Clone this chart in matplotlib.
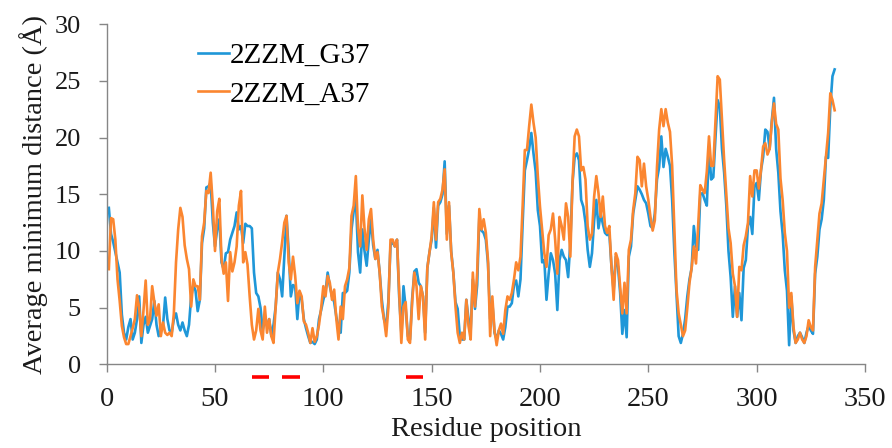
import matplotlib
matplotlib.use("Agg")
import matplotlib.pyplot as plt
import numpy as np

plt.rcParams['font.family'] = ['Liberation Serif', 'DejaVu Serif']

residues = list(range(1, 337))

g37 = [
    13.8, 11.5, 10.8, 9.9, 9.0, 8.1, 4.4, 2.8, 2.2, 3.3,
    4.0, 2.2, 2.8, 4.0, 6.0, 1.9, 3.5, 4.2, 2.8, 3.4,
    4.0, 5.6, 3.5, 2.5, 3.0, 3.4, 5.9, 4.0, 3.0, 2.8,
    4.0, 4.5, 3.5, 3.0, 3.7, 3.0, 2.5, 3.5, 6.0, 7.0,
    6.5, 4.7, 5.7, 10.7, 12.0, 15.6, 15.7, 16.0, 12.5, 10.4,
    11.9, 12.8, 9.0, 8.4, 9.8, 9.9, 11.0, 11.6, 12.2, 13.4,
    11.9, 12.2, 10.7, 12.4, 12.2, 12.2, 12.0, 8.1, 6.3, 6.0,
    5.0, 3.0, 4.0, 3.4, 4.0, 2.5, 3.5, 5.1, 8.1, 7.5,
    6.0, 9.5, 13.1, 10.0, 6.0, 7.0, 6.9, 4.0, 6.4, 5.7,
    4.0, 3.2, 2.5, 1.9, 2.0, 1.8, 2.2, 4.0, 4.8, 5.7,
    6.4, 8.1, 6.9, 6.0, 5.5, 4.2, 3.3, 2.8, 6.3, 6.3,
    6.5, 8.1, 11.9, 13.5, 14.6, 9.9, 8.1, 11.9, 10.0, 8.7,
    11.0, 12.8, 10.5, 9.3, 10.1, 8.1, 5.7, 4.0, 3.4, 5.5,
    10.5, 10.8, 10.4, 11.0, 6.0, 2.8, 6.9, 5.0, 2.5, 2.2,
    5.8, 8.2, 8.4, 7.2, 6.9, 6.0, 2.8, 8.5, 9.9, 11.0,
    13.8, 10.3, 14.0, 14.3, 15.0, 17.9, 11.5, 14.0, 10.0, 8.1,
    5.5, 4.9, 2.5, 2.2, 2.2, 5.7, 4.0, 3.0, 7.5, 4.9,
    7.0, 13.0, 11.8, 11.6, 11.0, 8.9, 4.0, 5.5, 2.8, 2.2,
    3.0, 2.7, 2.2, 3.3, 5.1, 5.1, 5.4, 7.0, 7.4, 6.0,
    7.5, 12.5, 17.1, 18.0, 19.0, 20.4, 18.6, 17.0, 13.6, 12.2,
    9.0, 9.2, 5.7, 8.0, 9.8, 9.2, 8.0, 4.8, 9.2, 10.1,
    9.5, 9.2, 7.7, 10.7, 16.0, 18.3, 18.6, 18.0, 14.5, 13.9,
    12.5, 10.1, 8.6, 9.8, 12.7, 14.5, 12.0, 13.3, 12.4, 11.6,
    11.4, 11.6, 8.6, 6.5, 9.5, 8.6, 6.3, 2.7, 4.8, 2.4,
    9.5, 10.4, 13.3, 14.5, 15.7, 15.4, 15.0, 14.5, 14.2, 13.3,
    12.2, 12.0, 13.3, 16.3, 17.4, 20.1, 17.4, 19.0, 18.3, 17.5,
    14.5, 10.0, 6.3, 2.5, 1.9, 2.7, 4.0, 6.0, 7.5, 8.5,
    12.2, 10.4, 10.1, 15.0, 15.1, 14.5, 14.0, 19.2, 16.3, 16.5,
    20.0, 23.3, 22.7, 19.0, 16.9, 14.0, 10.0, 7.7, 4.2, 6.9,
    4.2, 6.3, 3.9, 8.5, 9.2, 12.2, 13.0, 11.5, 15.7, 16.0,
    14.5, 17.1, 18.3, 20.7, 20.5, 19.0, 21.5, 23.5, 19.0, 16.9,
    13.5, 11.5, 8.3, 6.5, 1.7, 6.0, 3.0, 1.9, 2.5, 2.8,
    2.4, 1.9, 2.8, 3.4, 3.0, 2.7, 8.0, 9.5, 11.9, 12.8,
    14.5, 18.3, 18.2, 22.7, 25.4, 26.0,
]

a37 = [
    8.4, 12.9, 12.8, 11.0, 7.5, 5.6, 3.4, 2.4, 1.8, 1.8,
    2.5, 3.2, 4.0, 6.1, 5.0, 2.5, 4.8, 7.4, 3.5, 4.0,
    6.9, 5.5, 4.3, 5.3, 2.5, 3.7, 2.8, 2.6, 2.8, 2.5,
    4.5, 9.0, 11.9, 13.8, 13.0, 10.5, 9.3, 8.4, 5.1, 7.5,
    6.9, 6.9, 5.7, 11.3, 12.5, 15.3, 15.1, 16.9, 14.0, 10.0,
    13.5, 14.6, 9.3, 8.0, 9.0, 5.6, 9.9, 8.2, 9.0, 10.4,
    14.0, 15.3, 9.0, 9.9, 8.8, 6.0, 3.5, 2.2, 3.0, 4.9,
    3.0, 2.2, 5.1, 2.8, 4.0, 2.5, 1.9, 5.1, 8.1, 9.3,
    10.8, 12.5, 13.1, 9.0, 7.5, 9.5, 7.8, 5.4, 6.5, 6.0,
    3.8, 3.5, 2.8, 1.9, 3.2, 2.0, 2.5, 3.5, 5.0, 6.9,
    6.0, 7.8, 7.2, 5.7, 6.6, 4.0, 2.2, 5.1, 4.0, 6.9,
    7.5, 8.5, 13.1, 14.0, 16.6, 12.0, 10.4, 14.9, 12.0, 10.1,
    12.8, 13.7, 11.0, 9.3, 9.9, 8.1, 5.1, 4.0, 2.5, 5.0,
    11.0, 11.0, 10.4, 11.0, 6.5, 1.9, 5.1, 5.5, 2.2, 1.9,
    5.5, 8.1, 6.9, 4.0, 6.9, 6.0, 2.2, 8.5, 9.9, 11.3,
    14.3, 11.0, 14.3, 14.6, 15.4, 17.2, 11.0, 14.3, 9.9, 8.1,
    5.1, 2.8, 1.9, 2.8, 2.2, 5.7, 3.4, 2.2, 8.1, 5.1,
    8.1, 13.7, 11.9, 12.8, 11.6, 9.2, 2.5, 6.0, 3.0, 1.7,
    3.0, 3.6, 2.7, 4.8, 6.0, 5.7, 6.3, 7.5, 9.0, 8.3,
    9.5, 14.0, 18.9, 18.9, 21.0, 22.9, 21.3, 20.0, 16.6, 13.9,
    11.8, 9.8, 8.6, 11.4, 11.9, 13.3, 11.0, 8.0, 13.0, 12.2,
    11.0, 14.2, 13.0, 9.5, 16.0, 20.1, 20.7, 20.1, 17.1, 17.4,
    16.3, 12.2, 11.0, 11.5, 14.8, 16.6, 15.1, 13.0, 14.8, 12.2,
    11.6, 12.2, 8.6, 5.7, 9.8, 9.2, 6.9, 4.5, 7.2, 4.5,
    10.1, 11.0, 13.6, 15.1, 18.3, 18.0, 15.7, 17.7, 15.7, 14.5,
    13.0, 11.8, 12.7, 17.4, 20.7, 22.5, 21.0, 22.5, 21.3, 20.5,
    17.5, 12.0, 6.6, 4.5, 3.5, 2.5, 3.0, 5.0, 7.2, 8.5,
    10.4, 8.9, 12.2, 15.8, 15.4, 15.1, 17.0, 20.1, 17.5, 17.5,
    21.5, 25.4, 25.1, 21.5, 18.0, 15.0, 12.0, 10.7, 8.0, 6.9,
    4.2, 8.6, 8.3, 10.5, 11.3, 12.5, 16.6, 14.8, 17.1, 17.1,
    15.5, 17.1, 19.2, 19.5, 18.5, 19.0, 21.3, 23.0, 21.2, 20.7,
    16.4, 14.5, 11.6, 10.0, 5.0, 6.3, 3.3, 1.9, 2.2, 2.8,
    2.2, 1.9, 2.5, 3.9, 3.3, 3.0, 8.6, 11.0, 13.3, 14.2,
    16.3, 18.3, 20.4, 23.9, 23.3, 22.4,
]

series_names = ["2ZZM_G37", "2ZZM_A37"]
region_starts = [67, 81, 138]
region_ends = [75, 89, 146]
x_ticks = [0, 50, 100, 150, 200, 250, 300, 350]
y_ticks = [0, 5, 10, 15, 20, 25, 30]

blue = '#1f97d8'
orange = '#fb8630'
grey = '#868686'
txt = '#1a1a1a'

fig = plt.figure(figsize=(8.92, 4.48), dpi=100)
ax = fig.add_axes([0.1196, 0.1864, 0.8501, 0.7600])

ax.plot(residues, g37, color=blue, lw=1.9, label=series_names[0], solid_joinstyle='round')
ax.plot(residues, a37, color=orange, lw=1.9, label=series_names[1], solid_joinstyle='round')

ax.hlines([-1.1] * len(region_starts), region_starts, region_ends, colors='#ff0000',
          lw=2.6, clip_on=False)

ax.set_xlim(0, 350)
ax.set_ylim(0, 30)
ax.set_xticks(x_ticks)
ax.set_yticks(y_ticks)
ax.tick_params(axis='both', direction='out', length=5.5, width=1, color=grey,
               labelcolor=txt)
ax.tick_params(axis='y', pad=13, labelsize=19)
ax.tick_params(axis='x', pad=11, labelsize=20.5)
for side in ['top', 'right']:
    ax.spines[side].set_visible(False)
for side in ['left', 'bottom']:
    ax.spines[side].set_color(grey)
    ax.spines[side].set_linewidth(1)

ax.set_xlabel("Residue position", fontsize=20.5, color=txt, labelpad=3)
ax.set_ylabel("Average minimum distance (Å)", fontsize=20.5, color=txt, labelpad=4.5)

leg = ax.legend(loc='upper left', bbox_to_anchor=(0.105, 0.98), frameon=False,
                fontsize=21, handlelength=1.05, handletextpad=0.05,
                labelspacing=0.42, borderaxespad=0)
for line in leg.get_lines():
    line.set_linewidth(1.9)

fig.savefig('out.png', dpi=100)
